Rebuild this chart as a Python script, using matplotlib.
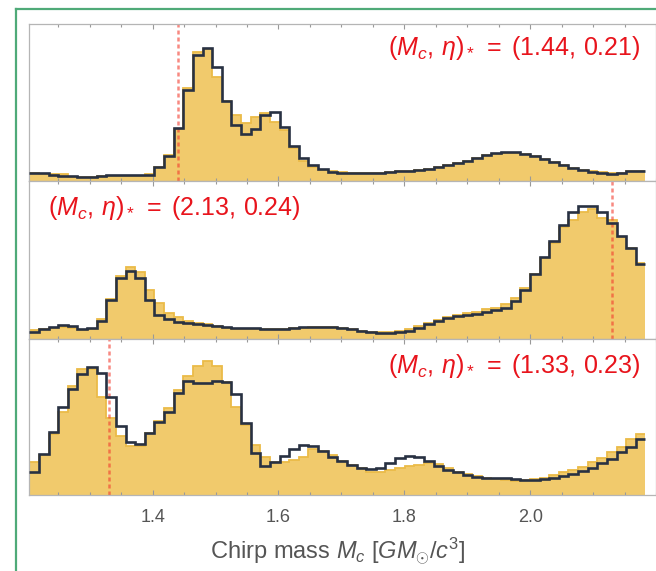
import numpy as np
import matplotlib
matplotlib.use("Agg")
import matplotlib.pyplot as plt
from matplotlib.lines import Line2D

plt.rcParams['font.family'] = ['Liberation Sans', 'DejaVu Sans']
plt.rcParams['mathtext.fontset'] = 'custom'
plt.rcParams['mathtext.rm'] = 'Liberation Sans'
plt.rcParams['mathtext.it'] = 'Liberation Sans:italic'

# histogram bins (chirp mass)
bin_lo = 1.204
bin_w = 0.0153
n_bins = 64
edges = bin_lo + bin_w * np.arange(n_bins + 1)

# panel 1: (Mc, eta)* = (1.44, 0.21)
p1_fill = [8.3, 7.3, 6.7, 6.7, 4.3, 4, 4.3, 5, 5.3, 5.3,
           5.3, 5.3, 6.7, 13.7, 26, 52, 92.7, 129.3, 131.7, 104.3,
           80, 66, 58.3, 64.3, 67.7, 59.3, 51, 32.7, 20, 14.3,
           11, 9.7, 8.7, 8, 7.7, 8, 8.3, 9, 9.7, 10.3,
           11.3, 12.3, 14, 16, 18, 20.3, 23, 25.7, 27.3, 28.3,
           28.3, 27, 25, 22, 18.7, 15.7, 12.7, 11, 10, 9,
           8, 8.3, 9.7, 10.3]
p1_line = [8.3, 7.7, 6, 5.3, 4.7, 4, 4, 4.7, 5.7, 5.7,
           5.7, 6, 6.5, 13.7, 25.3, 53, 91, 126, 132.7, 113.7,
           80, 56, 46.7, 52, 66, 68.7, 54, 35.3, 23.3, 16,
           12.3, 9.3, 8.3, 7.7, 7.7, 8, 8.3, 9, 9.7, 10.3,
           11.3, 12, 13.7, 15.7, 17.7, 20, 22.7, 25.7, 27.7, 28.7,
           28.7, 27, 25, 22.3, 19, 16, 12.7, 10.7, 9, 8,
           7.3, 8.3, 9.7, 10.3]

# panel 2: (Mc, eta)* = (2.13, 0.24)
p2_fill = [9.3, 10.3, 11, 12.7, 11, 9.3, 10, 20.3, 40, 63.3,
           72.7, 67.7, 49.3, 36, 26.7, 22, 18, 16, 15, 13.7,
           11.7, 10.7, 10.3, 10, 10, 10, 10.3, 11, 11.7, 12.3,
           12.7, 12.7, 11.7, 10.3, 8.7, 7.7, 7.3, 7.3, 8, 10,
           13.3, 16.3, 19.3, 22.3, 24.3, 26, 27, 30, 31, 35,
           41, 51, 65.3, 81, 96, 112, 119.3, 127.7, 130.3, 121,
           119, 102.7, 91, 76]
p2_line = [7.7, 10.3, 12.7, 14.7, 13.3, 10.3, 11.3, 18.7, 39.3, 61,
           68.7, 61.7, 39.3, 24.3, 20, 17.7, 16.7, 15.3, 14.3, 13.7,
           12.7, 11.3, 11, 11, 10.7, 10.3, 10.7, 11.3, 12, 12.3,
           12.7, 12.7, 11.7, 10.3, 8.7, 7.3, 6.7, 6.7, 7, 8.7,
           11.7, 15, 18, 21, 23, 24.5, 25.5, 27, 29, 31.7,
           38, 49.7, 65.3, 82, 98, 114.7, 127.7, 133.7, 133.7, 127.7,
           116, 103.7, 91, 75.7]

# panel 3: (Mc, eta)* = (1.33, 0.23)
p3_fill = [32.7, 40, 60.7, 83.3, 108.7, 126, 126, 98.3, 76.7, 59.3,
           49.3, 49.3, 62, 74, 87.3, 105, 119.3, 129.3, 134.3, 129.3,
           113.3, 88.3, 70, 50, 38.3, 33.3, 32.7, 35, 38.3, 46,
           44.5, 40, 34, 30, 26.7, 23.3, 23.3, 25, 27.3, 29,
           30, 31.7, 30.7, 26.7, 22.7, 20.7, 18.7, 17.3, 16, 15,
           14, 14.7, 16, 17.3, 20, 23.3, 25, 28.3, 32.7, 37.3,
           43.3, 48.3, 56, 60.7]
p3_line = [23.3, 41, 62.7, 88.3, 106.3, 120.7, 128, 121.7, 97.7, 69.3,
           52.7, 51, 61.7, 72.7, 83.3, 102.3, 114, 112.3, 111.7, 114.3,
           112.7, 100.7, 72.3, 41.7, 29.3, 32.7, 39.3, 45.7, 50, 49.3,
           44, 38.3, 34, 30, 27.3, 26, 27.3, 31.7, 36.7, 39,
           38.3, 34, 29.3, 25, 22.7, 20, 18.3, 17.3, 16.7, 16.7,
           16, 15.3, 15.3, 16, 17.3, 19.3, 20.7, 24, 27.3, 31.7,
           36, 42.7, 48.3, 55.7]

true_mc = [1.44, 2.13, 1.33]
labels = [r'$(M_c,\,\eta)_*\;=\;(1.44,\,0.21)$',
          r'$(M_c,\,\eta)_*\;=\;(2.13,\,0.24)$',
          r'$(M_c,\,\eta)_*\;=\;(1.33,\,0.23)$']
fills = [p1_fill, p2_fill, p3_fill]
lines = [p1_line, p2_line, p3_line]

W, H = 656, 571
fig = plt.figure(figsize=(W / 100, H / 100), dpi=100)

# panel pixel extents (top, bottom)
panels_px = [(24, 181), (181, 339.3), (339.3, 495)]
ax_left = 29.3
text_pos = [(0.976, 0.845, 'right'), (0.03, 0.83, 'left'), (0.976, 0.83, 'right')]

axes = []
for i, (top, bot) in enumerate(panels_px):
    ax = fig.add_axes([ax_left / W, 1 - bot / H, (W - ax_left) / W, (bot - top) / H])
    ax.stairs(fills[i], edges, fill=True, color='#F1CA6C', zorder=1)
    ax.stairs(fills[i], edges, baseline=None, color='#EBBB48', lw=1.3, zorder=1.5)
    ax.axvline(true_mc[i], color='#F23A2E', alpha=0.6, lw=1.8,
               ls=(0, (1.6, 1.2)), zorder=2)
    ax.stairs(lines[i], edges, baseline=None, color='#283142', lw=1.9, zorder=3)
    ax.set_xlim(bin_lo, bin_lo + (W - ax_left) / 640)
    ax.set_ylim(0, bot - top)
    ax.set_yticks([])
    ax.set_xticks([1.4, 1.6, 1.8, 2.0])
    ax.set_xticks(np.arange(1.25, 2.2, 0.05), minor=True)
    ax.tick_params(axis='x', which='both', direction='in', top=True, bottom=True,
                   color='#999999', width=0.8, labelcolor='#555555', labelsize=13, pad=10)
    ax.tick_params(axis='x', which='major', length=3.5)
    ax.tick_params(axis='x', which='minor', length=2.5)
    if i < 2:
        ax.tick_params(axis='x', labelbottom=False)
    for s in ax.spines.values():
        s.set_color('#B5B5B5')
        s.set_linewidth(0.9)
    tx, ty, ha = text_pos[i]
    ax.text(tx, ty, labels[i], transform=ax.transAxes, ha=ha, va='center',
            color='#E8141C', fontsize=18)
    axes.append(ax)

axes[2].set_xlabel(r'Chirp mass $M_c$ $[GM_{\odot}/c^3]$', color='#555555', fontsize=17)
axes[2].xaxis.set_label_coords((338 - ax_left) / (W - ax_left), -0.265)

# green frame around the figure panel
green = '#4FAA78'
fig.add_artist(Line2D([15.5 / W, 15.5 / W], [0, 1 - 9 / H], color=green, lw=1.6,
                      transform=fig.transFigure))
fig.add_artist(Line2D([15.5 / W, 1], [1 - 9 / H, 1 - 9 / H], color=green, lw=1.6,
                      transform=fig.transFigure))

fig.savefig('out.png', dpi=100)
